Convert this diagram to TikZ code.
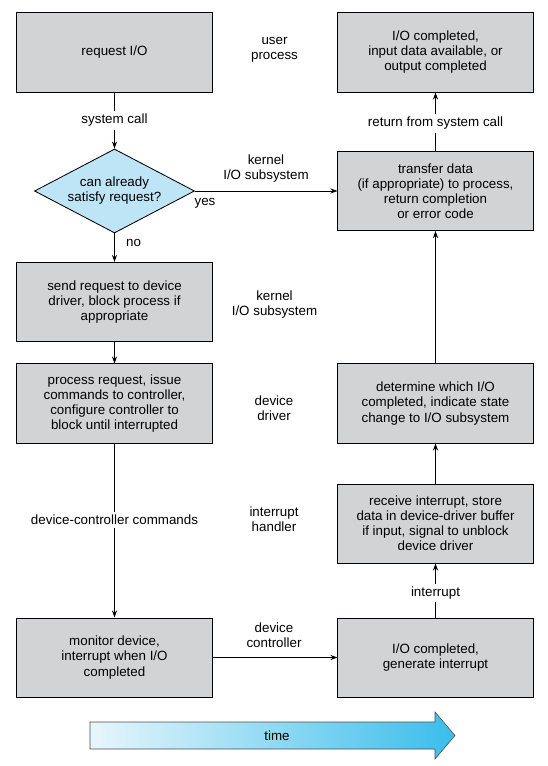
\documentclass[tikz,border=0pt]{standalone}
\usepackage{fontspec}
\setmainfont{Liberation Sans}
\usetikzlibrary{shapes.geometric,arrows.meta}

\definecolor{boxgray}{RGB}{209,211,212}
\definecolor{decblue}{RGB}{190,229,246}
\definecolor{timelight}{RGB}{232,246,252}
\definecolor{timedark}{RGB}{58,189,235}

\tikzset{
	etape/.style={draw=black, fill=boxgray, line width=0.7pt, minimum width=4.875cm, minimum height=1.975cm, align=center, inner sep=2pt},
	choix/.style={diamond, draw=black, fill=decblue, line width=0.6pt, minimum width=4cm, minimum height=2.1cm, aspect=1.9, inner sep=0pt, align=center},
	fleche/.style={-{Stealth[length=5pt,width=3.6pt]}, line width=0.6pt},
	etiq/.style={align=center},
	coupe/.style={fill=white, inner sep=2pt}
}

\begin{document}
\begin{tikzpicture}[x=0.025cm, y=-0.025cm, font=\fontsize{9.5}{10.7}\selectfont]
		\useasboundingbox (0,0) rectangle (547,766);

		% Boites
		\node[etape] at (114.5,52.5) (req) {request I/O};
		\node[etape] at (435.5,52.5) (fini) {I/O completed,\\input data available, or\\output completed};
		\node[choix] at (114.5,191) (test) {can already\\satisfy request?};
		\node[etape] at (435.5,191) (transf) {transfer data\\(if appropriate) to process,\\return completion\\or error code};
		\node[etape] at (114.5,302) (envoi) {send request to device\\driver, block process if\\appropriate};
		\node[etape] at (114.5,403.5) (pilote) {process request, issue\\commands to controller,\\configure controller to\\block until interrupted};
		\node[etape] at (435.5,403.5) (quel) {determine which I/O\\completed, indicate state\\change to I/O subsystem};
		\node[etape] at (435.5,523.5) (recoit) {receive interrupt, store\\data in device-driver buffer\\if input, signal to unblock\\device driver};
		\node[etape] at (114.5,657.5) (surv) {monitor device,\\interrupt when I/O\\completed};
		\node[etape] at (435.5,657.5) (gen) {I/O completed,\\generate interrupt};

		% Niveaux
		\node[etiq] at (274.5,50) (user) {user\\process};
		\node[etiq] at (266,169) (noyau) {kernel\\I/O subsystem};
		\node[etiq] at (274.5,305) (noyaub) {kernel\\I/O subsystem};
		\node[etiq] at (274,408) (driver) {device\\driver};
		\node[etiq] at (274,519) (handler) {interrupt\\handler};
		\node[etiq] at (274,635) (ctrl) {device\\controller};

		% Fleches
		\draw[fleche] (req) -- node[coupe] {system call} (test);
		\draw[fleche] (test) -- (transf);
		\node at (205,203) (oui) {yes};
		\draw[fleche] (test) -- (envoi);
		\node at (133.5,243) (non) {no};
		\draw[fleche] (envoi) -- (pilote);
		\draw[fleche] (pilote) -- node[coupe, pos=0.44] {device-controller commands} (surv);
		\draw[fleche] (surv) -- (gen);
		\draw[fleche] (gen) -- node[coupe, pos=0.45] {interrupt} (recoit);
		\draw[fleche] (recoit) -- (quel);
		\draw[fleche] (quel) -- (transf);
		\draw[fleche] (transf) -- node[coupe, pos=0.47] {return from system call} (fini);

		% Temps
		\shade[left color=timelight, right color=timedark, draw=black!70, line width=0.4pt]
			(90,722) -- (435,722) -- (435,712) -- (455,735.5) -- (435,759) -- (435,749) -- (90,749) -- cycle;
		\node at (277,735.5) (temps) {time};

\end{tikzpicture}
\end{document}
